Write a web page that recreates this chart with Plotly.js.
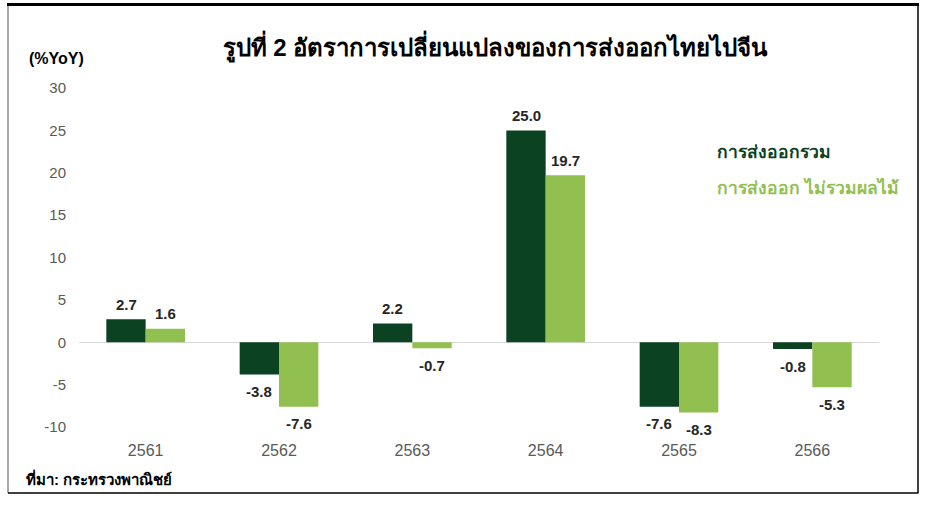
<!DOCTYPE html>
<html>
<head>
<meta charset="utf-8">
<script src="https://cdn.plot.ly/plotly-3.0.1.min.js"></script>
<style>html,body{margin:0;padding:0;background:#fff;}#chart{width:925px;height:505px;}</style>
</head>
<body>
<div id="chart"></div>
<script>
const categories = ["2561", "2562", "2563", "2564", "2565", "2566"];
const totalExports = [2.7, -3.8, 2.2, 25.0, -7.6, -0.8];
const exportsExFruit = [1.6, -7.6, -0.7, 19.7, -8.3, -5.3];
const seriesNames = ["การส่งออกรวม", "การส่งออก ไม่รวมผลไม้"];
const yTicks = [-10, -5, 0, 5, 10, 15, 20, 25, 30];

const darkGreen = "#0B4222";
const lightGreen = "#92C050";
const fontFam = "Liberation Sans, Arial, sans-serif";

const labelFont = {family: fontFam, size: 15, color: "#262626"};

const traces = [
  {
    type: "bar", name: seriesNames[0], x: categories, y: totalExports,
    marker: {color: darkGreen}, hoverinfo: "none"
  },
  {
    type: "bar", name: seriesNames[1], x: categories, y: exportsExFruit,
    marker: {color: lightGreen}, hoverinfo: "none"
  }
];

const L = 79, R = 879, T = 88, B = 427;
const px = x => (x - L) / (R - L);
const py = y => (B - y) / (B - T);

const bargap = 0.41;
const barW = (R - L) / categories.length * (1 - bargap) / 2;

function valueLabels(values, side) {
  return values.map((v, i) => ({
    text: "<b>" + v.toFixed(1) + "</b>",
    xref: "x", yref: "y", x: i, y: v,
    xshift: side * barW / 2, yshift: v >= 0 ? 15 : -17,
    xanchor: "center", yanchor: "middle", showarrow: false,
    font: labelFont
  }));
}

const layout = {
  width: 925, height: 505,
  margin: {l: L, r: 925 - R, t: T, b: 505 - B, pad: 0},
  paper_bgcolor: "#ffffff", plot_bgcolor: "#ffffff",
  barmode: "group", bargap: bargap, bargroupgap: 0,
  showlegend: false,
  title: {
    text: "<b>รูปที่ 2 อัตราการเปลี่ยนแปลงของการส่งออกไทยไปจีน</b>",
    font: {family: fontFam, size: 24, color: "#000000"},
    x: 495 / 925, xanchor: "center", xref: "container",
    y: 1 - 48 / 505, yanchor: "middle", yref: "container"
  },
  xaxis: {
    type: "category", categoryorder: "array", categoryarray: categories,
    range: [-0.5, categories.length - 0.5], autorange: false,
    tickvals: categories, ticktext: categories,
    showgrid: false, zeroline: false, showline: false, ticks: "",
    tickfont: {family: fontFam, size: 16, color: "#595959"},
    ticklabelstandoff: 12
  },
  yaxis: {
    range: [-10, 30], autorange: false, tickvals: yTicks, ticktext: yTicks.map(String),
    showgrid: false, zeroline: true, zerolinecolor: "#d9d9d9", zerolinewidth: 1,
    showline: false, ticks: "",
    tickfont: {family: fontFam, size: 15, color: "#595959"},
    ticklabelstandoff: 12
  },
  annotations: [
    {text: "<b>(%YoY)</b>", xref: "paper", yref: "paper", x: px(27), y: py(58),
     xanchor: "left", yanchor: "middle", showarrow: false,
     font: {family: fontFam, size: 16, color: "#000000"}},
    {text: "<b>" + seriesNames[0] + "</b>", xref: "paper", yref: "paper", x: px(715), y: py(152),
     xanchor: "left", yanchor: "middle", showarrow: false,
     font: {family: fontFam, size: 17.5, color: darkGreen}},
    {text: "<b>" + seriesNames[1] + "</b>", xref: "paper", yref: "paper", x: px(715), y: py(187),
     xanchor: "left", yanchor: "middle", showarrow: false,
     font: {family: fontFam, size: 17.5, color: lightGreen}},
    {text: "<b>ที่มา: กระทรวงพาณิชย์</b>", xref: "paper", yref: "paper", x: px(24), y: py(478),
     xanchor: "left", yanchor: "middle", showarrow: false,
     font: {family: fontFam, size: 15, color: "#000000"}}
  ].concat(valueLabels(totalExports, -1), valueLabels(exportsExFruit, 1)),
  shapes: [
    {type: "line", xref: "paper", yref: "paper", x0: px(8), x1: px(8), y0: py(493), y1: py(5),
     line: {color: "#8c8c8c", width: 1.5}, layer: "above"},
    {type: "line", xref: "paper", yref: "paper", x0: px(918), x1: px(918), y0: py(493), y1: py(5),
     line: {color: "#000000", width: 1.5}, layer: "above"},
    {type: "line", xref: "paper", yref: "paper", x0: px(8), x1: px(918.5), y0: py(493), y1: py(493),
     line: {color: "#000000", width: 1.5}, layer: "above"},
    {type: "line", xref: "paper", yref: "paper", x0: px(7), x1: px(919), y0: py(4.5), y1: py(4.5),
     line: {color: "#000000", width: 3}, layer: "above"}
  ]
};

Plotly.newPlot("chart", traces, layout, {staticPlot: true, displayModeBar: false});
</script>
</body>
</html>
